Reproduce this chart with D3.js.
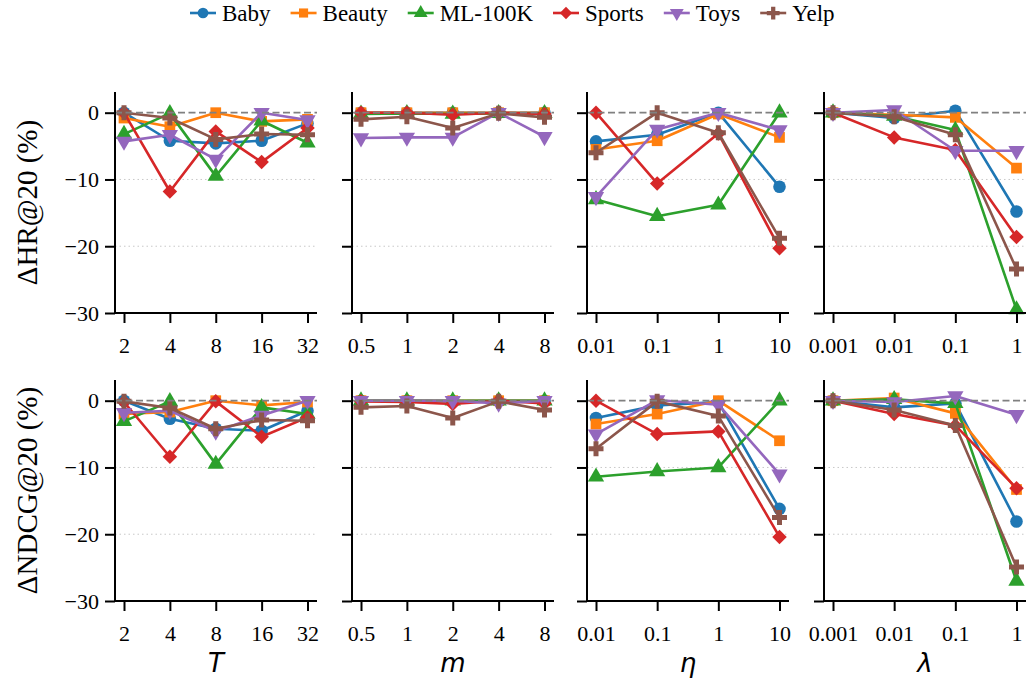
<!DOCTYPE html>
<html lang="en">
<head>
<meta charset="UTF-8">
<title>Sensitivity</title>
<script src="https://d3js.org/d3.v7.min.js"></script>
<style>
    body { margin: 0; background: #fff; }
    svg { display: block; }
    .tick-label { font-family: "Liberation Serif", "Times New Roman", serif; font-size: 22px; }
</style>
</head>
<body>
<div id="chart"></div>
<script>
    const datasets = ["Baby", "Beauty", "ML-100K", "Sports", "Toys", "Yelp"];
    const colors = ["#1f77b4", "#ff7f0e", "#2ca02c", "#d62728", "#9467bd", "#8c564b"];
    const markers = ["circle", "square", "triUp", "diamond", "triDown", "plus"];

    const tLabels = ["2", "4", "8", "16", "32"];
    const mLabels = ["0.5", "1", "2", "4", "8"];
    const etaLabels = ["0.01", "0.1", "1", "10"];
    const lambdaLabels = ["0.001", "0.01", "0.1", "1"];
    const yTicks = [0, -10, -20, -30];

    // rows follow datasets order
    const hrT = [
        [0, -4.2, -4.6, -4.2, -1.6],
        [-0.8, -2.1, 0, -1.3, -1.0],
        [-3.2, -0.1, -9.5, -1.2, -4.5],
        [0, -11.8, -2.8, -7.4, -2.3],
        [-4.3, -3.3, -7.0, 0, -1.1],
        [0, -0.8, -4.0, -3.2, -3.3]
    ];
    const hrM = [
        [0, 0, 0, 0, 0],
        [0, 0, 0, 0, 0],
        [-0.2, -0.1, -0.2, -0.1, -0.1],
        [0, 0, -0.3, 0, -0.2],
        [-3.8, -3.7, -3.7, 0, -3.6],
        [-1.0, -0.6, -2.3, -0.1, -0.7]
    ];
    const hrEta = [
        [-4.3, -3.3, 0, -11.1],
        [-5.5, -4.2, -0.2, -3.7],
        [-13.0, -15.5, -13.8, 0],
        [0, -10.6, -3.1, -20.3],
        [-12.6, -2.5, 0, -2.6],
        [-6.0, 0, -3.0, -18.8]
    ];
    const hrLambda = [
        [0, -0.8, 0.3, -14.8],
        [0, -0.3, -0.7, -8.3],
        [0, -0.5, -2.6, -29.5],
        [0, -3.7, -5.6, -18.6],
        [0, 0.4, -5.7, -5.7],
        [0, -0.6, -3.3, -23.4]
    ];
    const ndcgT = [
        [0, -2.7, -4.2, -4.5, -1.5],
        [-2.0, -1.7, 0, -0.7, -0.2],
        [-3.1, -0.1, -9.5, -1.0, -2.0],
        [-0.2, -8.4, -0.1, -5.4, -2.5],
        [-1.8, -1.5, -4.6, -2.2, 0],
        [-0.1, -1.1, -4.2, -2.9, -3.0]
    ];
    const ndcgM = [
        [0, 0, -0.1, 0, 0],
        [0, 0, 0, 0, 0],
        [0, 0, 0, 0, 0],
        [-0.1, -0.2, -0.5, 0, -0.4],
        [0, 0, 0, -0.4, 0],
        [-1.0, -0.8, -2.6, -0.1, -1.4]
    ];
    const ndcgEta = [
        [-2.6, -0.7, -0.2, -16.2],
        [-3.5, -2.0, 0, -6.0],
        [-11.4, -10.6, -10.0, 0],
        [0, -5.0, -4.6, -20.4],
        [-5.0, 0.1, -0.6, -11.0],
        [-7.2, -0.1, -2.3, -17.5]
    ];
    const ndcgLambda = [
        [0, -1.0, -0.4, -18.1],
        [0, 0.4, -1.9, -13.3],
        [0, 0.2, -0.4, -27.0],
        [0, -2.0, -3.7, -13.1],
        [0, -0.2, 0.7, -2.1],
        [0, -1.4, -3.7, -24.9]
    ];

    const rows = [
        { label: "ΔHR@20 (%)", panels: [hrT, hrM, hrEta, hrLambda] },
        { label: "ΔNDCG@20 (%)", panels: [ndcgT, ndcgM, ndcgEta, ndcgLambda] }
    ];
    const xCats = [tLabels, mLabels, etaLabels, lambdaLabels];
    const xNames = ["T", "m", "η", "λ"];

    const width = 1028, height = 684;
    const panelLeft = [115, 352, 587, 824];
    const panelW = 202;
    const rowTop = [92, 380];
    const panelH = 221;

    const svg = d3.select("#chart").append("svg")
        .attr("width", width).attr("height", height);

    const symbolPath = {
        circle: d3.symbol(d3.symbolCircle, 125)(),
        square: d3.symbol(d3.symbolSquare, 115)(),
        triUp: d3.symbol(d3.symbolTriangle, 115)(),
        diamond: d3.symbol(d3.symbolSquare, 105)(),
        triDown: d3.symbol(d3.symbolTriangle, 115)(),
        plus: d3.symbol(d3.symbolCross, 125)()
    };
    const symbolRot = { circle: 0, square: 0, triUp: 0, diamond: 45, triDown: 180, plus: 0 };

    rows.forEach((row, ri) => {
        const y = d3.scaleLinear().domain([-30, 3.1]).range([rowTop[ri] + panelH, rowTop[ri]]);

        row.panels.forEach((series, pi) => {
            const x0 = panelLeft[pi];
            const x = d3.scalePoint().domain(xCats[pi]).range([x0 + 9, x0 + panelW - 9.5]);
            const g = svg.append("g");

            // dotted grid
            g.selectAll(".grid").data([-10, -20]).join("line")
                .attr("x1", x0).attr("x2", x0 + panelW)
                .attr("y1", d => y(d)).attr("y2", d => y(d))
                .attr("stroke", "#c8c8c8").attr("stroke-width", 1)
                .attr("stroke-dasharray", "1.5,3");

            // series
            series.forEach((vals, si) => {
                const pts = vals.map((v, i) => [x(xCats[pi][i]), y(v)]);
                g.append("path")
                    .attr("d", d3.line()(pts))
                    .attr("fill", "none")
                    .attr("stroke", colors[si])
                    .attr("stroke-width", 2.6)
                    .attr("stroke-linejoin", "round");
                g.selectAll(null).data(pts).join("path")
                    .attr("d", symbolPath[markers[si]])
                    .attr("transform", d => `translate(${d[0]},${d[1]}) rotate(${symbolRot[markers[si]]})`)
                    .attr("fill", colors[si]);
            });

            // zero line
            g.append("line")
                .attr("x1", x0).attr("x2", x0 + panelW)
                .attr("y1", y(0)).attr("y2", y(0))
                .attr("stroke", "#808080").attr("stroke-width", 1.8)
                .attr("stroke-dasharray", "7,3.5");

            // axes
            const yAxis = d3.axisLeft(y).tickValues(yTicks).tickSize(10).tickPadding(6)
                .tickFormat(d => pi === 0 ? (d < 0 ? "−" + Math.abs(d) : d) : "");
            const ya = g.append("g").attr("transform", `translate(${x0},0)`).call(yAxis);
            const xAxis = d3.axisBottom(x).tickSize(10).tickPadding(14);
            const xa = g.append("g").attr("transform", `translate(0,${rowTop[ri] + panelH})`).call(xAxis);
            xa.select(".domain").attr("d", `M${x0},0H${x0 + panelW}`);
            ya.select(".domain").attr("d", `M0,${rowTop[ri]}V${rowTop[ri] + panelH}`);
            [ya, xa].forEach(a => {
                a.selectAll(".domain").attr("stroke", "#000").attr("stroke-width", 2);
                a.selectAll(".tick line").attr("stroke", "#000").attr("stroke-width", 2);
                a.selectAll(".tick text").attr("class", "tick-label").attr("fill", "#000");
            });

            if (ri === 1) {
                svg.append("text")
                    .attr("x", x0 + panelW / 2).attr("y", 672)
                    .attr("text-anchor", "middle")
                    .style("font-family", "DejaVu Sans")
                    .style("font-style", "italic")
                    .style("font-size", "26px")
                    .text(xNames[pi]);
            }
        });

        svg.append("text")
            .attr("transform", `translate(37,${rowTop[ri] + panelH / 2}) rotate(-90)`)
            .attr("text-anchor", "middle")
            .style("font-family", "Liberation Serif")
            .style("font-size", "29px")
            .text(row.label);
    });

    // legend
    const legend = svg.append("g");
    let lx = 190;
    datasets.forEach((name, si) => {
        legend.append("line")
            .attr("x1", lx).attr("x2", lx + 26).attr("y1", 13).attr("y2", 13)
            .attr("stroke", colors[si]).attr("stroke-width", 2.6);
        legend.append("path")
            .attr("d", symbolPath[markers[si]])
            .attr("transform", `translate(${lx + 13},13) rotate(${symbolRot[markers[si]]}) scale(0.85)`)
            .attr("fill", colors[si]);
        const t = legend.append("text")
            .attr("x", lx + 32).attr("y", 21)
            .style("font-family", "Liberation Serif")
            .style("font-size", "23px")
            .text(name);
        lx += 32 + t.node().getComputedTextLength() + 20;
    });
</script>
</body>
</html>
